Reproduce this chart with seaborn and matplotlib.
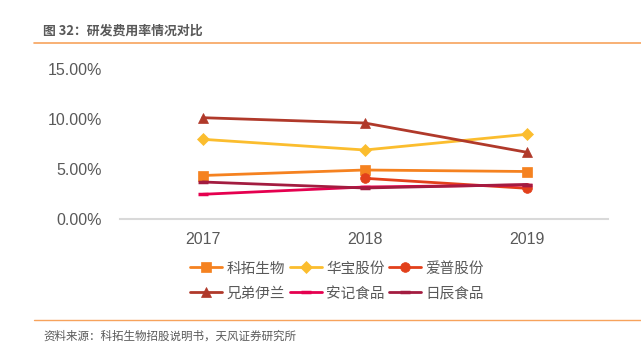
import numpy as np
import pandas as pd
import matplotlib
matplotlib.use("Agg")
import matplotlib.pyplot as plt
import seaborn as sns
from matplotlib.lines import Line2D

years = [2017, 2018, 2019]
series_names = ["科拓生物", "华宝股份", "爱普股份", "兄弟伊兰", "安记食品", "日辰食品"]
ketuo = [4.35, 4.90, 4.75]
huabao = [7.97, 6.90, 8.47]
aipu = [np.nan, 4.07, 3.07]
xiongdi = [10.13, 9.60, 6.67]
anji = [2.47, 3.20, 3.40]
richen = [3.70, 3.10, 3.45]
yticks = [0, 5, 10, 15]

colors = ["#F58220", "#FBBD2E", "#E2401B", "#B0392A", "#E5004F", "#A31C40"]
markers = ["s", "D", "o", "^", "_", "_"]
msizes = [7, 6, 7, 7, 7, 7]

sns.set_theme(style="white")
plt.rcParams['font.family'] = ['Noto Sans CJK SC', 'DejaVu Sans']

records = []
for name, vals in zip(series_names, [ketuo, huabao, aipu, xiongdi, anji, richen]):
    for y, v in zip(years, vals):
        records.append({"year": y, "value": v, "series": name})
df = pd.DataFrame(records)

fig = plt.figure(figsize=(6.41, 3.53), dpi=100)
ax = fig.add_axes([120/641, 1-219/353, (608-120)/641, (219-69)/353])

for name, c, m, ms in zip(series_names, colors, markers, msizes):
    sub = df[df.series == name].dropna()
    sns.lineplot(data=sub, x="year", y="value", ax=ax, color=c, linewidth=2,
                 marker=m, markersize=ms, markeredgecolor=c, markeredgewidth=(2.5 if m == "_" else 0.5),
                 legend=False)

ax.set_xlim(2016.49, 2019.5)
ax.set_ylim(0, 15)
ax.set_xticks(years)
ax.set_xticklabels([str(y) for y in years])
ax.set_yticks(yticks)
ax.set_yticklabels([f"{v:.2f}%" for v in yticks])
ax.set_xlabel("")
ax.set_ylabel("")
for s in ["top", "right", "left"]:
    ax.spines[s].set_visible(False)
ax.spines["bottom"].set_color("#D9D9D9")
ax.spines["bottom"].set_linewidth(1.5)
ax.tick_params(axis="both", length=0, labelsize=11.5, colors="#595959")
ax.tick_params(axis="y", pad=13)
ax.tick_params(axis="x", pad=9)
for lab in ax.get_xticklabels() + ax.get_yticklabels():
    lab.set_family(["Liberation Sans", "DejaVu Sans"])

handles = [Line2D([0], [0], color=c, linewidth=2, marker=m, markersize=ms,
                  markeredgecolor=c, markeredgewidth=(2.5 if m == "_" else 0.5))
           for c, m, ms in zip(colors, markers, msizes)]
order = [0, 3, 1, 4, 2, 5]
leg = fig.legend([handles[i] for i in order], [series_names[i] for i in order],
                 loc="center", ncol=3,
                 bbox_to_anchor=(337/641, 1-281/353), frameon=False,
                 fontsize=10.5, handlelength=2.2, handletextpad=0.3,
                 columnspacing=0.3, labelspacing=0.75)
for t in leg.get_texts():
    t.set_color("#595959")

fig.text(43/641, 1-31/353, "图 32：研发费用率情况对比", fontsize=9.3, fontweight="bold",
         color="#595959", va="center", ha="left")
fig.add_artist(Line2D([34/641, 1], [1-43/353, 1-43/353], color="#F7A35C", linewidth=1.2))
fig.add_artist(Line2D([34/641, 1], [1-320/353, 1-320/353], color="#F7A35C", linewidth=1.0))
fig.text(43/641, 1-336/353, "资料来源：科拓生物招股说明书，天风证券研究所", fontsize=8.3,
         color="#595959", va="center", ha="left")

fig.savefig("out.png", dpi=100)
